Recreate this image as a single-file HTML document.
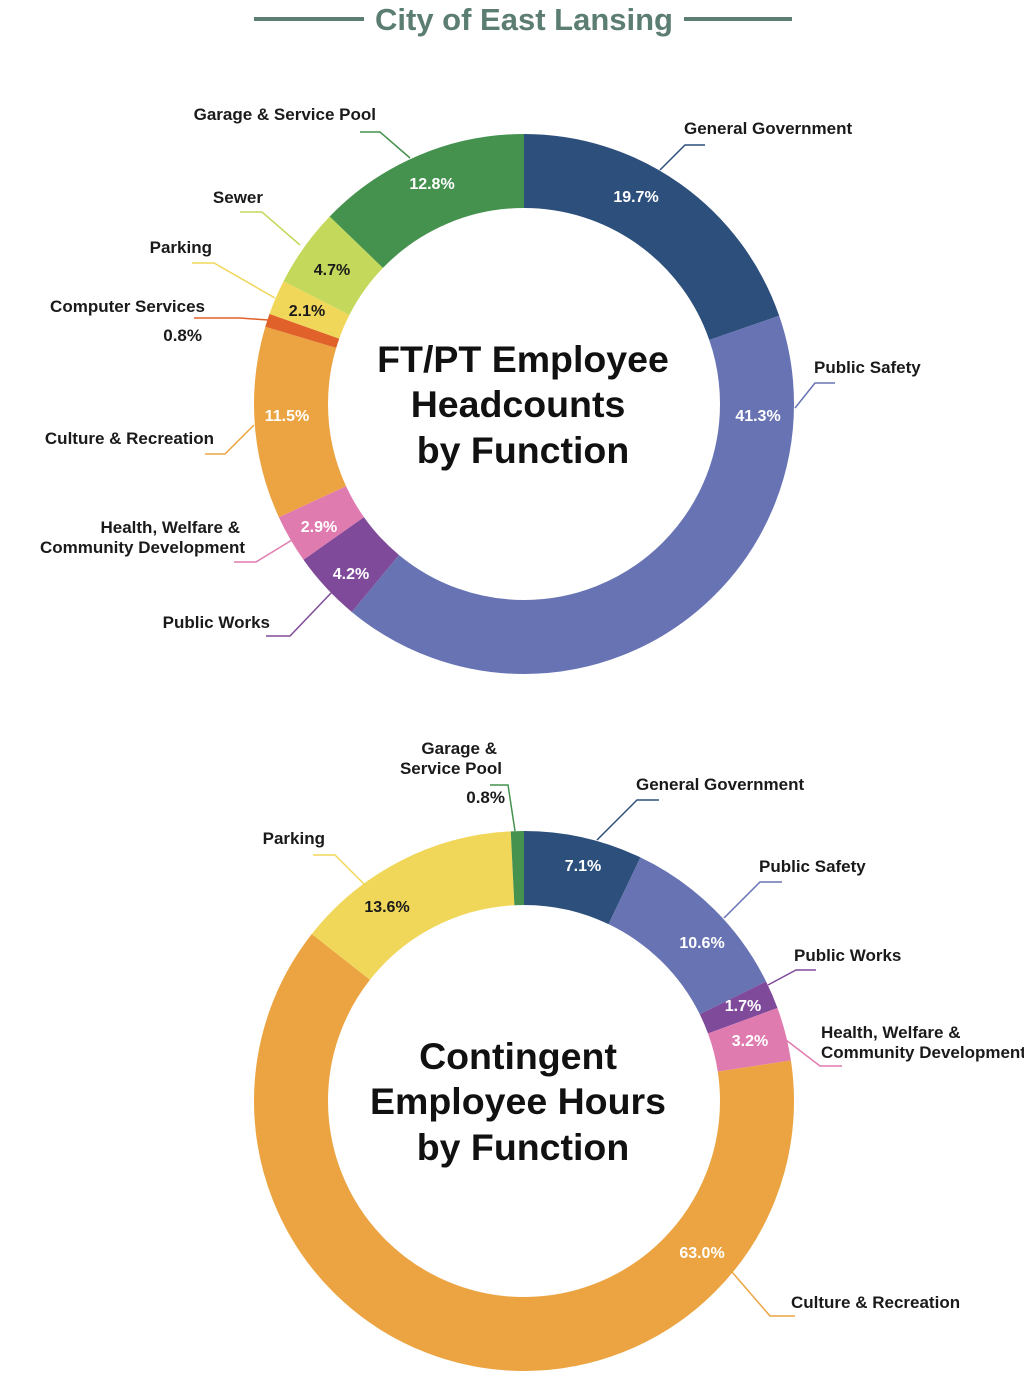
<!DOCTYPE html>
<html><head><meta charset="utf-8"><style>
html,body{margin:0;padding:0;background:#fff;}
svg{display:block;font-family:"Liberation Sans",sans-serif;}
.l{font-size:17px;font-weight:bold;fill:#1a1a1a;}
.p{font-size:16px;font-weight:bold;fill:#fff;}
.pd{font-size:16px;font-weight:bold;fill:#1a1a1a;}
.c{font-size:37.5px;font-weight:bold;fill:#111;}
</style></head><body>
<svg width="1024" height="1389" viewBox="0 0 1024 1389">
<line x1="254" y1="19" x2="364" y2="19" stroke="#5b7d72" stroke-width="4"/>
<line x1="684" y1="19" x2="792" y2="19" stroke="#5b7d72" stroke-width="4"/>
<text x="524" y="30" text-anchor="middle" font-size="31" font-weight="bold" fill="#5b7d72">City of East Lansing</text>

<g transform="rotate(-90 524 404)" fill="none" stroke-width="74">
<circle cx="524" cy="404" r="233" stroke="#2c4f7c" stroke-dasharray="288.4 2000" stroke-dashoffset="0"/>
<circle cx="524" cy="404" r="233" stroke="#6873b3" stroke-dasharray="604.6 2000" stroke-dashoffset="-288.4"/>
<circle cx="524" cy="404" r="233" stroke="#7f4a9a" stroke-dasharray="61.5 2000" stroke-dashoffset="-893"/>
<circle cx="524" cy="404" r="233" stroke="#e07bb0" stroke-dasharray="42.5 2000" stroke-dashoffset="-954.5"/>
<circle cx="524" cy="404" r="233" stroke="#eba441" stroke-dasharray="168.4 2000" stroke-dashoffset="-997"/>
<circle cx="524" cy="404" r="233" stroke="#e0622a" stroke-dasharray="11.7 2000" stroke-dashoffset="-1165.4"/>
<circle cx="524" cy="404" r="233" stroke="#f0d75a" stroke-dasharray="30.7 2000" stroke-dashoffset="-1177.1"/>
<circle cx="524" cy="404" r="233" stroke="#c4d95b" stroke-dasharray="68.8 2000" stroke-dashoffset="-1207.8"/>
<circle cx="524" cy="404" r="233" stroke="#45924f" stroke-dasharray="187.4 2000" stroke-dashoffset="-1276.6"/>
</g>
<text class="p" x="636" y="202" text-anchor="middle">19.7%</text>
<text class="p" x="758" y="421" text-anchor="middle">41.3%</text>
<text class="p" x="351" y="579" text-anchor="middle">4.2%</text>
<text class="p" x="319" y="532" text-anchor="middle">2.9%</text>
<text class="p" x="287" y="421" text-anchor="middle">11.5%</text>
<text class="pd" x="307" y="316" text-anchor="middle">2.1%</text>
<text class="pd" x="332" y="275" text-anchor="middle">4.7%</text>
<text class="p" x="432" y="189" text-anchor="middle">12.8%</text>
<text class="c" x="523" y="372" text-anchor="middle">FT/PT Employee</text>
<text class="c" x="518" y="417" text-anchor="middle">Headcounts</text>
<text class="c" x="523" y="463" text-anchor="middle">by Function</text>

<g fill="none" stroke-width="1.5">
<polyline points="660,170 685,145 705,145" stroke="#2c4f7c"/>
<polyline points="795,408 815,383 835,383" stroke="#6873b3"/>
<polyline points="332,592 290,636 266,636" stroke="#7f4a9a"/>
<polyline points="292,540 256,562 234,562" stroke="#e07bb0"/>
<polyline points="254,425 225,454 205,454" stroke="#eba441"/>
<polyline points="268,320 240,318 194,318" stroke="#e0622a"/>
<polyline points="275,298 214,263 192,263" stroke="#f0d75a"/>
<polyline points="300,245 262,212 240,212" stroke="#c4d95b"/>
<polyline points="410,158 380,132 360,132" stroke="#45924f"/>
</g>
<text class="l" x="684" y="134">General Government</text>
<text class="l" x="814" y="373">Public Safety</text>
<text class="l" x="270" y="628" text-anchor="end">Public Works</text>
<text class="l" x="240" y="533" text-anchor="end">Health, Welfare &amp;</text>
<text class="l" x="245" y="553" text-anchor="end">Community Development</text>
<text class="l" x="214" y="444" text-anchor="end">Culture &amp; Recreation</text>
<text class="l" x="205" y="312" text-anchor="end">Computer Services</text>
<text class="l" x="202" y="341" text-anchor="end">0.8%</text>
<text class="l" x="212" y="253" text-anchor="end">Parking</text>
<text class="l" x="263" y="203" text-anchor="end">Sewer</text>
<text class="l" x="376" y="120" text-anchor="end">Garage &amp; Service Pool</text>

<g transform="rotate(-90 524 1101)" fill="none" stroke-width="74">
<circle cx="524" cy="1101" r="233" stroke="#2c4f7c" stroke-dasharray="103.9 2000" stroke-dashoffset="0"/>
<circle cx="524" cy="1101" r="233" stroke="#6873b3" stroke-dasharray="155.2 2000" stroke-dashoffset="-103.9"/>
<circle cx="524" cy="1101" r="233" stroke="#7f4a9a" stroke-dasharray="24.9 2000" stroke-dashoffset="-259.1"/>
<circle cx="524" cy="1101" r="233" stroke="#e07bb0" stroke-dasharray="46.8 2000" stroke-dashoffset="-284"/>
<circle cx="524" cy="1101" r="233" stroke="#eba441" stroke-dasharray="922.3 2000" stroke-dashoffset="-330.8"/>
<circle cx="524" cy="1101" r="233" stroke="#f0d75a" stroke-dasharray="199.1 2000" stroke-dashoffset="-1253.1"/>
<circle cx="524" cy="1101" r="233" stroke="#45924f" stroke-dasharray="11.8 2000" stroke-dashoffset="-1452.2"/>
</g>
<text class="p" x="583" y="871" text-anchor="middle">7.1%</text>
<text class="p" x="702" y="948" text-anchor="middle">10.6%</text>
<text class="p" x="743" y="1011" text-anchor="middle">1.7%</text>
<text class="p" x="750" y="1046" text-anchor="middle">3.2%</text>
<text class="p" x="702" y="1258" text-anchor="middle">63.0%</text>
<text class="pd" x="387" y="912" text-anchor="middle">13.6%</text>
<text class="c" x="518" y="1069" text-anchor="middle">Contingent</text>
<text class="c" x="518" y="1114" text-anchor="middle">Employee Hours</text>
<text class="c" x="523" y="1160" text-anchor="middle">by Function</text>

<g fill="none" stroke-width="1.5">
<polyline points="597,840 637,800 659,800" stroke="#2c4f7c"/>
<polyline points="724,918 760,882 782,882" stroke="#6873b3"/>
<polyline points="768,985 796,970 816,970" stroke="#7f4a9a"/>
<polyline points="786,1040 820,1066 842,1066" stroke="#e07bb0"/>
<polyline points="732,1272 770,1316 795,1316" stroke="#eba441"/>
<polyline points="365,885 335,855 313,855" stroke="#f0d75a"/>
<polyline points="515,831 508,785 490,785" stroke="#45924f"/>
</g>
<text class="l" x="636" y="790">General Government</text>
<text class="l" x="759" y="872">Public Safety</text>
<text class="l" x="794" y="961">Public Works</text>
<text class="l" x="821" y="1038">Health, Welfare &amp;</text>
<text class="l" x="821" y="1058">Community Development</text>
<text class="l" x="791" y="1308">Culture &amp; Recreation</text>
<text class="l" x="325" y="844" text-anchor="end">Parking</text>
<text class="l" x="497" y="754" text-anchor="end">Garage &amp;</text>
<text class="l" x="502" y="774" text-anchor="end">Service Pool</text>
<text class="l" x="505" y="803" text-anchor="end">0.8%</text>
</svg>
</body></html>
